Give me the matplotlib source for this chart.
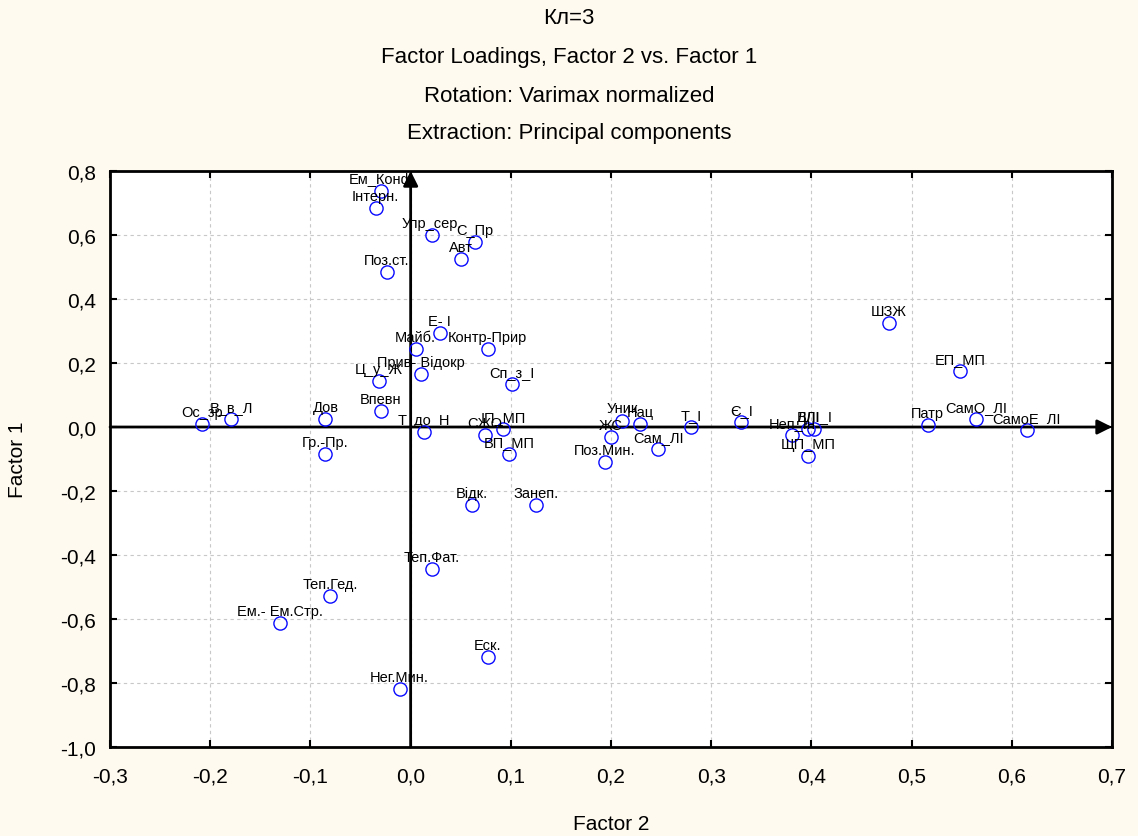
import matplotlib
matplotlib.use("Agg")
import matplotlib.pyplot as plt
from matplotlib.ticker import FuncFormatter, MultipleLocator

plt.rcParams['font.family'] = ['Liberation Sans', 'DejaVu Sans']

# Factor loadings: Factor 2 (horizontal) and Factor 1 (vertical)
labels = [
    "Ем_Конф", "Інтерн.", "Упр_сер.", "С_Пр", "Авт", "Поз.ст.",
    "Е- І", "Майб.", "Контр-Прир", "Прив- Відокр", "Сп_з_І", "Ц_у_Ж",
    "Впевн", "Дов", "В_в_Л", "Ос_зр", "Гр.-Пр.", "Т_до_Н",
    "СЖО", "ІП_МП", "ВП_МП", "Уник", "Нац", "ЖС", "Сам_ЛІ", "Поз.Мин.",
    "Т_І", "Є_І", "Неп_Ін", "ВЛІ", "ДЛІ_І", "ЩП_МП",
    "ШЗЖ", "ЕП_МП", "Патр", "СамО_ЛІ", "СамоЕ_ЛІ",
    "Відк.", "Занеп.", "Теп.Фат.", "Теп.Гед.", "Ем.- Ем.Стр.", "Еск.", "Нег.Мин.",
]
factor2 = [
    -0.030, -0.035, 0.021, 0.064, 0.050, -0.024,
    0.029, 0.005, 0.077, 0.010, 0.101, -0.032,
    -0.030, -0.085, -0.179, -0.208, -0.085, 0.013,
    0.074, 0.092, 0.098, 0.211, 0.229, 0.200, 0.247, 0.194,
    0.280, 0.330, 0.381, 0.397, 0.403, 0.397,
    0.477, 0.548, 0.516, 0.564, 0.615,
    0.061, 0.125, 0.021, -0.080, -0.130, 0.077, -0.011,
]
factor1 = [
    0.737, 0.684, 0.600, 0.578, 0.525, 0.484,
    0.294, 0.244, 0.244, 0.166, 0.134, 0.144,
    0.050, 0.025, 0.025, 0.009, -0.084, -0.016,
    -0.025, -0.006, -0.084, 0.020, 0.009, -0.031, -0.069, -0.109,
    0.000, 0.016, -0.025, -0.006, -0.006, -0.091,
    0.325, 0.175, 0.006, 0.025, -0.009,
    -0.244, -0.244, -0.444, -0.528, -0.612, -0.719, -0.819,
]

title_lines = [
    "Кл=3",
    "Factor Loadings, Factor 2 vs. Factor 1",
    "Rotation: Varimax normalized",
    "Extraction: Principal components",
]

fig = plt.figure(figsize=(11.38, 8.37), dpi=100, facecolor="#fffaf0")
ax = fig.add_axes([0.0967, 0.1063, 0.8805, 0.6882])
ax.set_facecolor("white")

ax.set_xlim(-0.3, 0.7)
ax.set_ylim(-1.0, 0.8)
ax.xaxis.set_major_locator(MultipleLocator(0.1))
ax.yaxis.set_major_locator(MultipleLocator(0.2))
fmt = FuncFormatter(lambda v, p: f"{v:.1f}".replace(".", ",").replace("-0,0", "0,0"))
ax.xaxis.set_major_formatter(fmt)
ax.yaxis.set_major_formatter(fmt)

ax.grid(True, linestyle=(0, (3, 3)), color="#c8c8c8", linewidth=0.8)
ax.set_axisbelow(True)
for s in ax.spines.values():
    s.set_linewidth(2.0)
    s.set_color("black")
ax.tick_params(direction="in", length=5, width=1.5, labelsize=15,
               top=True, right=True)
ax.tick_params(axis="x", pad=14)
ax.tick_params(axis="y", pad=10)

# Axis arrows through the origin
ax.annotate("", xy=(0.7, 0), xytext=(-0.3, 0),
            arrowprops=dict(arrowstyle="-|>", lw=2, color="black",
                            mutation_scale=22, shrinkA=0, shrinkB=0))
ax.annotate("", xy=(0, 0.8), xytext=(0, -1.0),
            arrowprops=dict(arrowstyle="-|>", lw=2, color="black",
                            mutation_scale=22, shrinkA=0, shrinkB=0))

ax.plot(factor2, factor1, linestyle="none", marker="o", markersize=9.5,
        markerfacecolor="none", markeredgecolor="#0a0aff", markeredgewidth=1.0,
        zorder=3)

for name, x, y in zip(labels, factor2, factor1):
    ax.annotate(name, (x, y), xytext=(0, 6), textcoords="offset points",
                ha="center", va="baseline", fontsize=10.5, color="black", zorder=4)

ax.set_xlabel("Factor 2", fontsize=15)
ax.set_ylabel("Factor 1", fontsize=15)
ax.xaxis.set_label_coords(0.5, -0.116)
ax.yaxis.set_label_coords(-0.083, 0.5)

ys = [18, 57, 97, 134]
for t, yp in zip(title_lines, ys):
    fig.text(0.5, 1 - yp / 837, t, ha="center", va="center", fontsize=16)

fig.savefig("out.png", dpi=100, facecolor=fig.get_facecolor())
